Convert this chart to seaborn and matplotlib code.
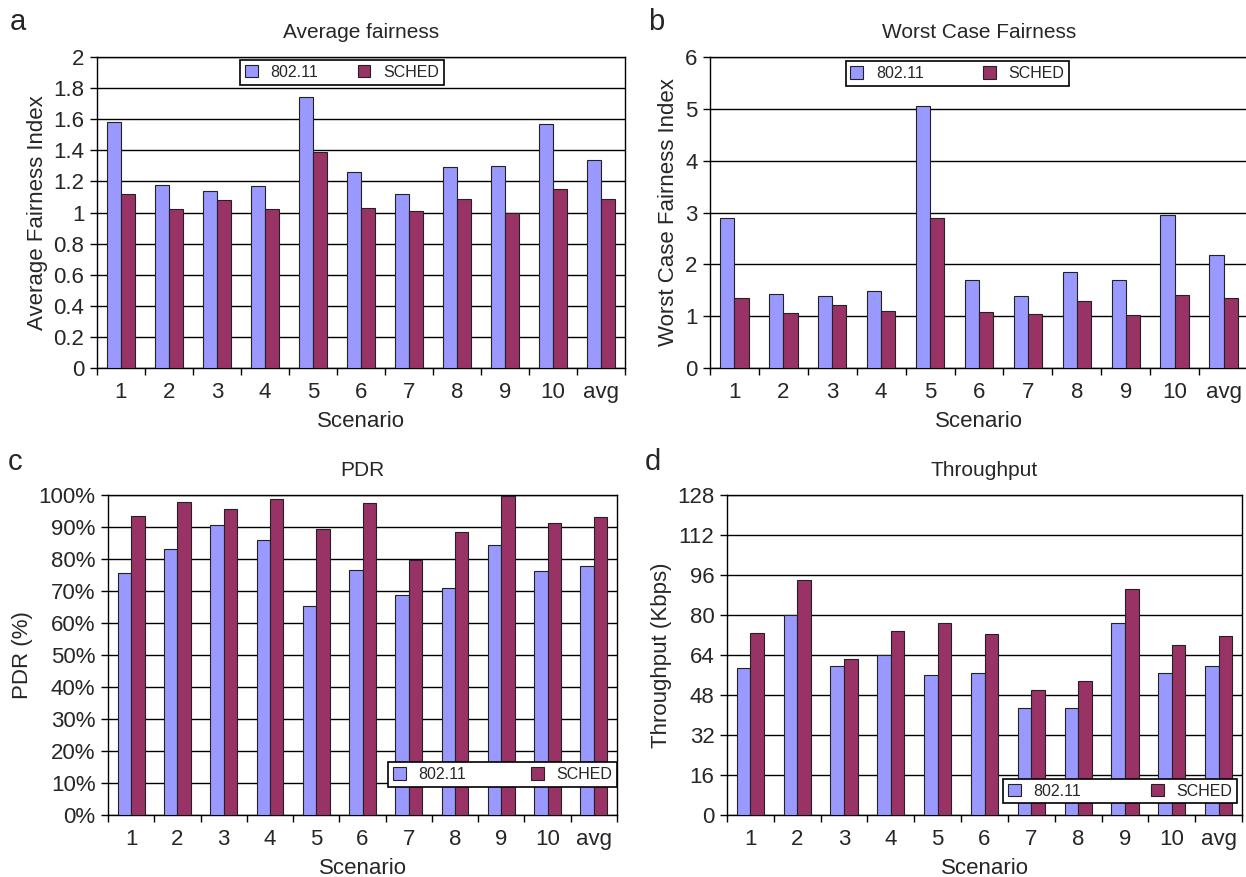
import numpy as np
import pandas as pd
import matplotlib
matplotlib.use("Agg")
import matplotlib.pyplot as plt
from matplotlib.ticker import FuncFormatter, FixedLocator
import seaborn as sns

# data
scenarios = ["1", "2", "3", "4", "5", "6", "7", "8", "9", "10", "avg"]
series_names = ["802.11", "SCHED"]

avg_fair_80211 = [1.58, 1.18, 1.14, 1.17, 1.74, 1.26, 1.12, 1.29, 1.30, 1.57, 1.34]
avg_fair_sched = [1.12, 1.02, 1.08, 1.02, 1.39, 1.03, 1.01, 1.09, 1.00, 1.15, 1.09]

worst_fair_80211 = [2.90, 1.42, 1.38, 1.49, 5.05, 1.70, 1.38, 1.86, 1.69, 2.95, 2.18]
worst_fair_sched = [1.36, 1.07, 1.21, 1.10, 2.89, 1.09, 1.05, 1.29, 1.02, 1.40, 1.35]

pdr_80211 = [75.5, 83.0, 90.7, 85.8, 65.2, 76.5, 68.8, 71.0, 84.5, 76.3, 77.7]
pdr_sched = [93.4, 97.8, 95.5, 98.6, 89.5, 97.5, 79.8, 88.3, 99.8, 91.3, 93.1]

thr_80211 = [59.0, 80.0, 59.5, 64.0, 56.0, 57.0, 43.0, 42.8, 77.0, 57.0, 59.5]
thr_sched = [73.0, 94.0, 62.5, 73.5, 77.0, 72.5, 50.0, 53.5, 90.5, 68.0, 71.5]

colors = ["#9999FF", "#993366"]

sns.set_theme(style="white")
plt.rcParams["font.family"] = ["Liberation Sans", "DejaVu Sans"]

W, H = 1246, 877
fig = plt.figure(figsize=(W / 100, H / 100), dpi=100)


def make_ax(left, right, top, bottom):
    return fig.add_axes([left / W, 1 - bottom / H, (right - left) / W, (bottom - top) / H])


def panel(ax, v1, v2, title, ylabel, ymax, step, leg_loc, leg_box, fmt=None):
    df = pd.DataFrame({
        "Scenario": scenarios * 2,
        "value": v1 + v2,
        "series": [series_names[0]] * len(v1) + [series_names[1]] * len(v2),
    })
    sns.barplot(data=df, x="Scenario", y="value", hue="series", palette=colors,
                saturation=1, width=0.58, gap=0, edgecolor="#222222", linewidth=0.8,
                ax=ax, zorder=3)
    ax.set_xlim(-0.5, len(scenarios) - 0.5)
    ax.set_ylim(0, ymax)
    ax.yaxis.set_major_locator(FixedLocator(np.arange(0, ymax + step / 2, step)))
    if fmt is not None:
        ax.yaxis.set_major_formatter(FuncFormatter(fmt))
    ax.grid(axis="y", color="black", linewidth=1, zorder=0)
    ax.set_axisbelow(True)
    for s in ax.spines.values():
        s.set_color("black")
        s.set_linewidth(1)
    ax.xaxis.set_minor_locator(FixedLocator(np.arange(-0.5, len(scenarios), 1.0)))
    ax.tick_params(axis="x", which="major", length=0, labelsize=16, pad=10)
    ax.tick_params(axis="x", which="minor", bottom=True, length=5, width=1, color="black")
    ax.tick_params(axis="y", which="major", left=True, length=5, width=1, color="black",
                   labelsize=16, pad=4)
    ax.set_title(title, fontsize=15, pad=14)
    ax.set_xlabel("Scenario", fontsize=16, labelpad=6)
    ax.set_ylabel(ylabel, fontsize=16, labelpad=4)
    handles, labels = ax.get_legend_handles_labels()
    leg = ax.legend(handles, labels, loc=leg_loc, bbox_to_anchor=leg_box, mode="expand",
                    ncol=2, fontsize=11.5, frameon=True, fancybox=False, edgecolor="black",
                    framealpha=1, handlelength=0.8, handleheight=0.8, borderaxespad=0,
                    borderpad=0.3, handletextpad=0.8, columnspacing=1.5)
    leg.get_frame().set_linewidth(1.2)
    leg.set_zorder(5)


ax_a = make_ax(97, 625, 57, 368)
panel(ax_a, avg_fair_80211, avg_fair_sched, "Average fairness", "Average Fairness Index",
      2.0, 0.2, "upper left", (0.271, 0, 0.386, 0.99),
      fmt=lambda v, p: f"{v:g}")

ax_b = make_ax(710, 1248, 57, 368)
panel(ax_b, worst_fair_80211, worst_fair_sched, "Worst Case Fairness", "Worst Case Fairness Index",
      6, 1, "upper left", (0.252, 0, 0.416, 0.986))

ax_c = make_ax(108, 617, 495, 815)
panel(ax_c, pdr_80211, pdr_sched, "PDR", "PDR (%)",
      100, 10, "lower left", (0.55, 0.088, 0.45, 1),
      fmt=lambda v, p: f"{v:.0f}%")

ax_d = make_ax(727, 1242, 495, 815)
panel(ax_d, thr_80211, thr_sched, "Throughput", "Throughput (Kbps)",
      128, 16, "lower left", (0.536, 0.036, 0.455, 1))

for letter, x, y in [("a", 10, 22), ("b", 648, 22), ("c", 8, 462), ("d", 645, 462)]:
    fig.text(x / W, 1 - y / H, letter, fontsize=21, ha="left", va="center")

fig.savefig("out.png", dpi=100)
